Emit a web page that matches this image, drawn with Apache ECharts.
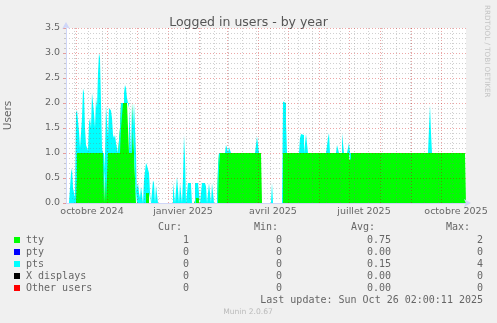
<!DOCTYPE html>
<html><head><meta charset="utf-8">
<script src="https://cdn.jsdelivr.net/npm/echarts@6/dist/echarts.min.js"></script>
<style>html,body{margin:0;padding:0;background:#F0F0F0;overflow:hidden}#c{width:497px;height:323px}</style>
</head><body><div id="c"></div>
<script>
// ---- data (one value per day, starting at startDate) ----
const startDate = '2024-09-21';
const endDate = '2025-10-26';
const tty = [
  0,0,0,0,0,0,0,0,0,0,
  0.5,1,1,1,1,1,1,1,1,1,
  1,1,1,1,1,1,1,1,1,1,
  1,1,1,1,1,1,1,1,0,0,
  1,1,1,1,1,1,1,1,1,1,
  1,1,1,1,1.5,2,2,2,2,2,
  2,2,2,1,1,1,2,2,1,1,
  0,0,0,0,0,0,0,0,0,0,
  0.2,0.2,0.2,0,0,0,0,0,0,0,
  0,0,0,0,0,0,0,0,0,0,
  0,0,0,0,0,0,0,0,0,0,
  0,0,0,0,0,0,0,0,0,0,
  0,0,0,0,0,0,0,0,0,0,
  0.1,0.1,0.1,0,0,0,0,0,0,0,
  0,0,0,0,0,0,0,0,0,0,
  0,0,0.7,1,1,1,1,1,1,1,
  1,1,1,1,1,1,1,1,1,1,
  1,1,1,1,1,1,1,1,1,1,
  1,1,1,1,1,1,1,1,1,1,
  1,1,1,1,1,1,0,0,0,0,
  0,0,0,0,0,0,0,0,0,0,
  0,0,0,0,0,0,0,1,1,1,
  1,1,1,1,1,1,1,1,1,1,
  1,1,1,1,1,1,1,1,1,1,
  1,1,1,1,1,1,1,1,1,1,
  1,1,1,1,1,1,1,1,1,1,
  1,1,1,1,1,1,1,1,1,1,
  1,1,1,1,1,1,1,1,1,1,
  1,1,1,0.85,0.9,1,1,1,1,1,
  1,1,1,1,1,1,1,1,1,1,
  1,1,1,1,1,1,1,1,1,1,
  1,1,1,1,1,1,1,1,1,1,
  1,1,1,1,1,1,1,1,1,1,
  1,1,1,1,1,1,1,1,1,1,
  1,1,1,1,1,1,1,1,1,1,
  1,1,1,1,1,1,1,1,1,1,
  1,1,1,1,1,1,1,1,1,1,
  1,1,1,1,1,1,1,1,1,1,
  1,1,1,1,1,1,1,1,1,1,
  1,1,1,1,1,1,1,1,1,1
];
const pts = [
  0,0,0,0,0,0.6,0.7,0.3,0.2,0.1,
  1.3,0.86,0.86,0.43,0.1,0.1,0.7,1.29,1.2,0.5,
  0.16,0.16,0.05,0.6,0.7,0.5,1.2,1.16,0.8,0.5,
  1.1,0.9,1.6,2.0,1.9,1.0,0.1,0,0,0,
  0.96,1.0,0.3,0.9,0.9,0.85,0.7,0.36,0.3,0.36,
  0.2,0.1,0,0,0,0,0,0,0.2,0.36,
  0.3,0.1,0,0.9,0.5,0,0,0,0,0,
  0,0.3,0.4,0.2,0.1,0.33,0.3,0,0.46,0.5,
  0.6,0.55,0.53,0.6,0.2,0,0,0.45,0.4,0,
  0.35,0.33,0,0,0,0,0,0,0,0,
  0,0,0,0,0,0,0,0.4,0.4,0,
  0,0.53,0.5,0,0.4,0.4,0,0.5,1.36,0.9,
  0,0,0.4,0.4,0.4,0.35,0,0,0,0.4,
  0.3,0.3,0.3,0.4,0,0,0.4,0.4,0.4,0.4,
  0.33,0,0,0.4,0.4,0,0.4,0.4,0,0,
  0,0,0,0,0,0,0,0,0,0,
  0.16,0.1,0,0.12,0.1,0,0,0,0,0,
  0,0,0,0,0,0,0,0,0,0,
  0,0,0,0,0,0,0,0,0,0,
  0,0.33,0.3,0,0,0,0,0,0,0,
  0,0,0,0,0,0,0.4,0,0,0,
  0,0,0,0,0,0,0,1.03,1.03,1.0,
  0.6,0,0,0,0,0,0,0,0,0,
  0,0,0,0,0.3,0.38,0.4,0.36,0,0,
  0.38,0.35,0,0,0,0,0,0,0,0,
  0,0,0,0,0,0,0,0,0,0,
  0,0,0.3,0.4,0,0,0,0,0,0,
  0,0.16,0.14,0,0,0,0.39,0.35,0,0,
  0,0,0,0.35,0.1,0,0,0,0,0,
  0,0,0,0,0,0,0,0,0,0,
  0,0,0,0,0,0,0,0,0,0,
  0,0,0,0,0,0,0,0,0,0,
  0,0,0,0,0,0,0,0,0,0,
  0,0,0,0,0,0,0,0,0,0,
  0,0,0,0,0,0,0,0,0,0,
  0,0,0,0,0,0,0,0,0,0,
  0,0,0,0.5,0.96,0.4,0,0,0,0,
  0,0,0,0,0,0,0,0,0,0,
  0,0,0,0,0,0,0,0,0,0,
  0,0,0,0,0,0,0,0,0,0
];
const monthLines = ['2024-10-01','2024-11-01','2024-12-01','2025-01-01','2025-02-01','2025-03-01','2025-04-01',
  '2025-05-01','2025-06-01','2025-07-01','2025-08-01','2025-09-01','2025-10-01'];
const weekLines = ['2024-09-29','2024-10-13','2024-10-27','2024-11-10','2024-11-24','2024-12-08','2024-12-22',
  '2025-01-05','2025-01-19','2025-02-02','2025-02-16','2025-03-02','2025-03-16','2025-03-30','2025-04-13',
  '2025-04-27','2025-05-11','2025-05-25','2025-06-08','2025-06-22','2025-07-06','2025-07-20','2025-08-03',
  '2025-08-17','2025-08-31','2025-09-14','2025-09-28','2025-10-12'];
const xTickDates = ['2024-10-17','2025-01-16','2025-04-16','2025-07-16','2025-10-16'];
const xTickLabels = ['octobre 2024','janvier 2025','avril 2025','juillet 2025','octobre 2025'];
const legendNames = ['tty','pty','pts','X displays','Other users'];
const legendColors = ['#00FF00','#0000FF','#00FFFF','#000000','#FF0000'];
const curValues = [1,0,0,0,0];
const minValues = [0,0,0,0,0];
const avgValues = [0.75,0,0.15,0,0];
const maxValues = [2,0,4,0,0];

// ---- helpers ----
const DAY = 86400000;
function ts(s){const p=s.split('-').map(Number);return Date.UTC(p[0],p[1]-1,p[2]);}
const t0 = ts(startDate), t1 = ts(endDate);
function toSeries(arr){
  const d = arr.map((v,i)=>[t0+i*DAY, v]);
  d.push([t1, arr[arr.length-1]]);
  return d;
}
const FONT = 'DejaVu Sans';
const MONO = 'DejaVu Sans Mono';
const TXT = '#666';
const RED = 'rgba(200,0,0,0.35)';
const GRAY = 'rgba(120,120,120,0.35)';
const AX = '#CFD6F8';

const chart = echarts.init(document.getElementById('c'), null, {renderer:'canvas'});

const graphics = [];
const rowY = [240,252,264,276,288];
const headers = [['Cur:',182],['Min:',278],['Avg:',375],['Max:',470]];
headers.forEach(h=>graphics.push({type:'text',x:h[1],y:227.5,style:{text:h[0],font:'10px '+MONO,fill:TXT,align:'right',verticalAlign:'middle'}}));
legendNames.forEach((n,i)=>{
  graphics.push({type:'rect',shape:{x:14,y:rowY[i]-3,width:6,height:6},style:{fill:legendColors[i]}});
  graphics.push({type:'text',x:26,y:rowY[i],style:{text:n,font:'10px '+MONO,fill:TXT,align:'left',verticalAlign:'middle'}});
  const cols = [[String(curValues[i]),189],[String(minValues[i]),282],[avgValues[i].toFixed(2),391],[String(maxValues[i]),483]];
  cols.forEach(c=>graphics.push({type:'text',x:c[1],y:rowY[i],style:{text:c[0],font:'10px '+MONO,fill:TXT,align:'right',verticalAlign:'middle'}}));
});
graphics.push({type:'text',x:483,y:300,style:{text:'Last update: Sun Oct 26 02:00:11 2025',font:'10px '+MONO,fill:TXT,align:'right',verticalAlign:'middle'}});
graphics.push({type:'text',x:248,y:312,style:{text:'Munin 2.0.67',font:'7.6px '+FONT,fill:'#BBBBBB',align:'center',verticalAlign:'middle'}});
graphics.push({type:'text',x:487,y:5,rotation:-Math.PI/2,style:{text:'RRDTOOL / TOBI OETIKER',font:'7.2px '+FONT,fill:'#C4C4C4',align:'left',verticalAlign:'middle'}});

const labelTs = xTickDates.map(ts);

chart.setOption({
  animation:false,
  useUTC:true,
  backgroundColor:'#F0F0F0',
  title:{text:'Logged in users - by year',left:'center',top:11,textStyle:{fontFamily:FONT,fontSize:12.5,fontWeight:'normal',color:'#555'}},
  grid:{left:66,top:28,width:400,height:175,show:true,backgroundColor:'#FFFFFF',borderWidth:0,z:0,
        containLabel:false,outerBoundsMode:'none'},
  xAxis:[{
    // data axis (time)
    type:'time',min:t0,max:t1,gridIndex:0,position:'top',z:2,
    axisLine:{show:false},axisLabel:{show:false},axisTick:{show:false},splitLine:{show:false}
  },{
    // month grid + labels
    type:'value',min:t0,max:t1,gridIndex:0,position:'bottom',z:3,
    axisLine:{show:true,onZero:false,lineStyle:{color:AX,width:1},symbol:['none','arrow'],symbolSize:[6,7],symbolOffset:[0,5]},
    axisTick:{show:false,customValues:monthLines.map(ts)},
    splitLine:{show:true,lineStyle:{color:RED,width:1,type:[1,2]}},
    axisLabel:{show:true,customValues:labelTs,margin:4,hideOverlap:false,fontFamily:FONT,fontSize:9.5,color:TXT,
      formatter:function(v){let bi=0,bd=Infinity;labelTs.forEach((t,i)=>{const d=Math.abs(t-v);if(d<bd){bd=d;bi=i;}});return xTickLabels[bi];}}
  },{
    // bi-weekly grid
    type:'value',min:t0,max:t1,gridIndex:0,position:'top',z:2,
    axisLine:{show:false},axisLabel:{show:false},
    axisTick:{show:false,customValues:weekLines.map(ts)},
    splitLine:{show:true,lineStyle:{color:GRAY,width:1,type:[1,2]}}
  }],
  yAxis:{
    type:'value',min:0,max:3.5,interval:0.5,z:3,
    name:'Users',nameLocation:'middle',nameGap:52,nameRotate:90,
    nameTextStyle:{fontFamily:FONT,fontSize:10.5,color:TXT},
    axisLine:{show:true,lineStyle:{color:AX,width:1},symbol:['none','arrow'],symbolSize:[6,7],symbolOffset:[0,6]},
    axisTick:{show:true,length:3,lineStyle:{color:RED}},
    minorTick:{show:true,splitNumber:5,length:2,lineStyle:{color:GRAY}},
    splitLine:{show:true,lineStyle:{color:RED,width:1,type:[1,2]}},
    minorSplitLine:{show:true,lineStyle:{color:GRAY,width:1,type:[1,2]}},
    axisLabel:{margin:6,fontFamily:FONT,fontSize:9.5,color:TXT,formatter:v=>v.toFixed(1)}
  },
  series:[
    {name:'tty',type:'line',xAxisIndex:0,stack:'users',step:'end',showSymbol:false,z:1,
     lineStyle:{width:0},areaStyle:{color:'#00FF00',opacity:1},data:toSeries(tty)},
    {name:'pts',type:'line',xAxisIndex:0,stack:'users',step:'end',showSymbol:false,z:1,
     lineStyle:{width:0},areaStyle:{color:'#00FFFF',opacity:1},data:toSeries(pts)}
  ],
  graphic:graphics
});
</script></body></html>
